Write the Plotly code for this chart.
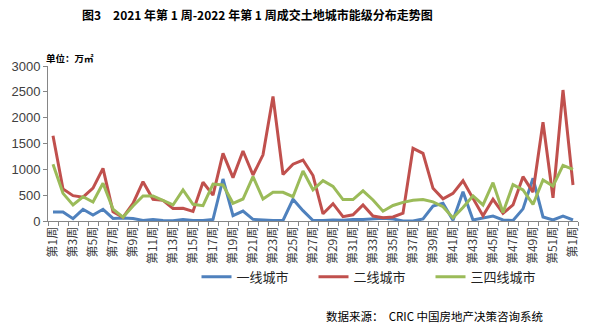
import plotly.graph_objects as go

weeks = [f"第{i}周" for i in range(1, 53)] + ["第1周"]
tier1 = [174, 174, 45, 226, 116, 226, 50, 60, 50, 10, 30, 10, 5, 30, 10, 10, 30, 813, 103, 193,
         32, 15, 10, 10, 420, 200, 10, 10, 20, 15, 30, 30, 40, 55, 40, 0, 0, 40, 290, 342,
         15, 568, 20, 60, 95, 20, 10, 235, 826, 78, 20, 95, 20]
tier2 = [1650, 620, 490, 460, 635, 1020, 180, 72, 340, 760, 420, 400, 240, 245, 185, 750, 500, 1310, 840, 1355,
         890, 1280, 2410, 900, 1100, 1180, 880, 140, 335, 83, 120, 310, 97, 64, 78, 150, 1406, 1310, 633, 430,
         535, 780, 438, 100, 420, 148, 310, 858, 560, 1910, 450, 2535, 697]
tier34 = [1100, 535, 310, 470, 368, 730, 230, 72, 290, 484, 484, 400, 310, 600, 322, 296, 716, 697, 342, 426,
          858, 426, 555, 555, 470, 967, 605, 780, 670, 415, 415, 585, 406, 190, 300, 360, 400, 415, 370, 277,
          60, 260, 487, 310, 742, 165, 705, 600, 320, 793, 677, 1075, 1000]
series_names = ["一线城市", "二线城市", "三四线城市"]
colors = ["#4F81BD", "#C0504D", "#9BBB59"]
y_ticks = [0, 500, 1000, 1500, 2000, 2500, 3000]

x = list(range(len(weeks)))
fig = go.Figure()
for name, vals, c in zip(series_names, [tier1, tier2, tier34], colors):
    fig.add_trace(go.Scatter(x=x, y=vals, mode="lines", name=name,
                             line=dict(color=c, width=3)))

label_idx = list(range(0, len(weeks), 2))
fig.update_layout(
    width=600, height=328,
    margin=dict(l=48, r=22, t=66, b=107),
    plot_bgcolor="white", paper_bgcolor="white",
    showlegend=True,
    legend=dict(orientation="h", x=(372 - 48) / 530, xanchor="center", y=-0.36, yanchor="middle",
                font=dict(family="Noto Sans CJK SC", size=13, color="#222222"),
                entrywidth=72, entrywidthmode="pixels", itemwidth=30,
                bgcolor="rgba(0,0,0,0)"),
    xaxis=dict(range=[-0.5, len(weeks) - 0.5], tickmode="array",
               tickvals=label_idx, ticktext=[weeks[i] for i in label_idx],
               tickangle=-90, ticks="", showgrid=False, zeroline=False,
               showline=True, linecolor="#868686", linewidth=1,
               tickfont=dict(family="Noto Sans CJK SC", size=12, color="#404040"),
               minor=dict(tickmode="array", tickvals=[i - 0.5 for i in range(len(weeks) + 1)],
                          ticks="outside", ticklen=4, tickcolor="#868686", showgrid=False)),
    yaxis=dict(range=[0, 3000], tickmode="array", tickvals=y_ticks,
               ticks="outside", ticklen=4, tickcolor="#868686",
               showgrid=False, zeroline=False, showline=True, linecolor="#868686", linewidth=1,
               tickfont=dict(family="Liberation Sans", size=13, color="#404040")),
    annotations=[
        dict(text="<b>图3　2021 年第 1 周-2022 年第 1 周成交土地城市能级分布走势图</b>",
             xref="paper", yref="paper", x=(257 - 48) / 530, y=(221 - 15) / 155,
             xanchor="center", yanchor="middle", showarrow=False,
             font=dict(family="Noto Sans CJK SC", size=12, color="#000000")),
        dict(text="<b>单位：万㎡</b>", xref="paper", yref="paper",
             x=(44 - 48) / 530, y=(221 - 58) / 155, xanchor="left", yanchor="middle",
             showarrow=False, font=dict(family="Noto Sans CJK SC", size=9.5, color="#000000")),
        dict(text="数据来源：  CRIC 中国房地产决策咨询系统", xref="paper", yref="paper",
             x=(324 - 48) / 530, y=(221 - 316) / 155, xanchor="left", yanchor="middle",
             showarrow=False, font=dict(family="Noto Sans CJK SC", size=11.5, color="#000000")),
    ],
)
fig.write_html("out.html")
